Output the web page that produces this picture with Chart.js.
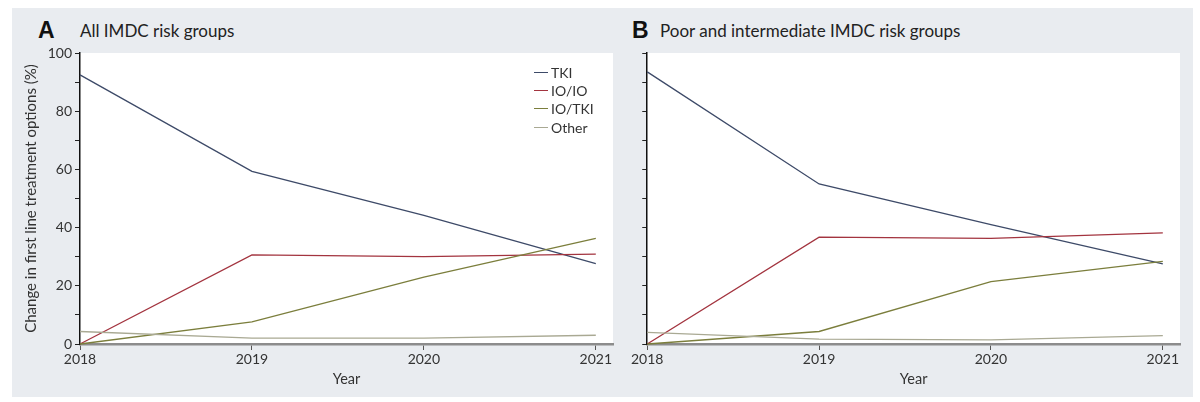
<!DOCTYPE html>
<html><head><meta charset="utf-8">
<script src="https://cdn.jsdelivr.net/npm/chart.js@4"></script>
<style>
html,body{margin:0;padding:0;background:#fff;width:1200px;height:402px;overflow:hidden;font-family:Lato,"Open Sans",sans-serif;}
#bg{position:absolute;left:12px;top:8px;width:1181px;height:389px;background:#e9ecf0;}
canvas{position:absolute;top:8px;}
.lab{position:absolute;font-weight:bold;font-size:23px;line-height:26px;color:#111;font-family:"Liberation Sans",Arial,sans-serif;}
.ttl{position:absolute;font-size:17px;line-height:26px;color:#222;}
#legend{position:absolute;left:534px;top:63px;font-size:14px;color:#333;}
#legend div{display:flex;align-items:center;height:18.3px;}
#legend span.s{display:inline-block;width:14px;height:0;border-top:1.3px solid;margin-right:3px;}
</style></head>
<body>
<div id="bg"></div>
<div class="lab" style="left:38px;top:17px;">A</div>
<div class="ttl" style="left:80px;top:18px;">All IMDC risk groups</div>
<div class="lab" style="left:632px;top:17px;">B</div>
<div class="ttl" style="left:660px;top:18px;">Poor and intermediate IMDC risk groups</div>
<canvas id="cA" width="618" height="389" style="left:12px;"></canvas>
<canvas id="cB" width="563" height="389" style="left:630px;"></canvas>
<div id="legend"></div>
<script>
const years = [2018, 2019, 2020, 2021];
const seriesNames = ['TKI', 'IO/IO', 'IO/TKI', 'Other'];
const seriesColors = ['#3d4a68', '#a3343f', '#7b7e3c', '#a9a993'];
// Panel A: All IMDC risk groups
const tkiA   = [92.5, 59.3, 44.2, 27.6];
const ioioA  = [0, 30.6, 30.0, 30.9];
const iotkiA = [0, 7.6, 23.0, 36.3];
const otherA = [4.3, 2.0, 2.0, 3.0];
// Panel B: Poor and intermediate IMDC risk groups
const tkiB   = [93.5, 55.0, 41.0, 27.5];
const ioioB  = [0, 36.7, 36.3, 38.2];
const iotkiB = [0, 4.3, 21.4, 28.4];
const otherB = [4.0, 1.7, 1.4, 2.9];
const yTickVals  = [0, 10, 20, 30, 40, 50, 60, 70, 80, 90, 100];
const yLabelVals = [0, 20, 40, 60, 80, 100];

Chart.defaults.font.family = 'Lato, "Open Sans", sans-serif';

const whiteArea = {id:'whiteArea', beforeDraw(c){
  const {ctx, chartArea:a} = c;
  ctx.save(); ctx.fillStyle = '#fff';
  ctx.fillRect(a.left, a.top, a.right - a.left, a.bottom - a.top);
  ctx.restore();
}};

function mkDatasets(arrs){
  return arrs.map((arr, i) => ({
    label: seriesNames[i],
    data: years.map((x, j) => ({x: x, y: arr[j]})),
    borderColor: seriesColors[i],
    backgroundColor: seriesColors[i],
    borderWidth: 1.3,
    pointRadius: 0,
    tension: 0,
    clip: false
  })).reverse();
}

function mkChart(id, arrs, showYLabels, yWidth, padRight){
  return new Chart(document.getElementById(id), {
    type: 'line',
    data: {datasets: mkDatasets(arrs)},
    options: {
      responsive: false, animation: false, devicePixelRatio: 1,
      layout: {padding: {left: 0, top: 45, right: padRight, bottom: 0}},
      plugins: {legend: {display: false}, tooltip: {enabled: false}},
      scales: {
        x: {
          type: 'linear', min: 2018, max: 2021.1,
          afterBuildTicks: s => { s.ticks = years.map(v => ({value: v})); },
          ticks: {callback: v => String(v), color: '#333', font: {size: 14}, padding: 1, maxRotation: 0, autoSkip: false},
          grid: {drawOnChartArea: false, drawTicks: true, tickLength: 6, color: '#555', lineWidth: 1},
          border: {display: true, color: '#8c8c8c', width: 2.5},
          title: {display: true, text: 'Year', color: '#333', font: {size: 14.5}, padding: {top: 0, bottom: 9}},
          afterFit: s => { s.height = 53; }
        },
        y: {
          min: 0, max: 100,
          afterBuildTicks: s => { s.ticks = yTickVals.map(v => ({value: v})); },
          ticks: {callback: v => (showYLabels && yLabelVals.includes(v)) ? String(v) : '', color: '#333', font: {size: 14}, padding: 3},
          grid: {drawOnChartArea: false, drawTicks: true, tickLength: 5, color: '#222', lineWidth: 1},
          border: {display: true, color: '#111', width: 1.5},
          title: {display: showYLabels, text: 'Change in first line treatment options (%)', color: '#333', font: {size: 15}, padding: {top: 10, bottom: 0}},
          afterFit: s => { s.width = yWidth; }
        }
      }
    },
    plugins: [whiteArea]
  });
}

mkChart('cA', [tkiA, ioioA, iotkiA, otherA], true, 68, 17);
mkChart('cB', [tkiB, ioioB, iotkiB, otherB], false, 16, 13);

const lg = document.getElementById('legend');
seriesNames.forEach((n, i) => {
  const d = document.createElement('div');
  const s = document.createElement('span'); s.className = 's'; s.style.borderTopColor = seriesColors[i];
  d.appendChild(s); d.appendChild(document.createTextNode(n));
  lg.appendChild(d);
});
</script>
</body></html>
